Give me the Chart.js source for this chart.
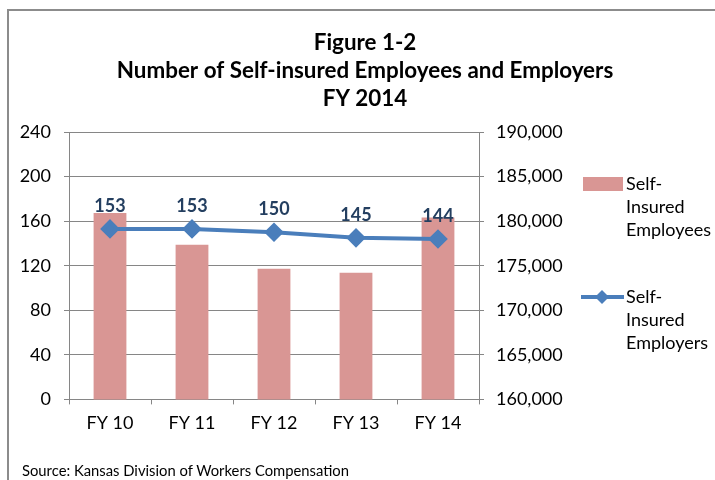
<!DOCTYPE html>
<html>
<head>
<meta charset="utf-8">
<script src="https://cdn.jsdelivr.net/npm/chart.js@4"></script>
<style>
  body { margin: 0; background: #fff; }
  #wrap { position: relative; width: 715px; height: 480px; overflow: hidden; }
  #frame { position: absolute; left: 7px; top: 9px; width: 720px; height: 480px;
           border-left: 2px solid #8c8c8c; border-top: 2px solid #8c8c8c; }
  #source { position: absolute; left: 22px; top: 461px; font: 14.8px Lato, sans-serif; color: #000; }
  canvas { position: absolute; left: 0; top: 0; }
</style>
</head>
<body>
<div id="wrap">
  <div id="frame"></div>
  <canvas id="myChart" width="715" height="480"></canvas>
  <div id="source">Source: Kansas Division of Workers Compensation</div>
</div>
<script>
let years = ['FY 10', 'FY 11', 'FY 12', 'FY 13', 'FY 14'];
let employees = [180900, 177350, 174650, 174200, 180400];
let employers = [153, 153, 150, 145, 144];
let leftTicks = [0, 40, 80, 120, 160, 200, 240];
let rightTicks = [160000, 165000, 170000, 175000, 180000, 185000, 190000];

const barColor = '#d99694';
const lineColor = '#4a7ebb';
const fontFamily = 'Lato, sans-serif';

// numbers above the employer points
const pointLabels = {
    id: 'pointLabels',
    afterDatasetsDraw(chart) {
        let ctx = chart.ctx;
        let meta = chart.getDatasetMeta(0);
        ctx.save();
        ctx.font = 'bold 18px ' + fontFamily;
        ctx.fillStyle = '#243f60';
        ctx.textAlign = 'center';
        ctx.textBaseline = 'middle';
        meta.data.forEach((pt, i) => {
            ctx.fillText(employers[i], pt.x, pt.y - 23);
        });
        ctx.restore();
    }
};

// legend on the right, wrapped like the original
const sideLegend = {
    id: 'sideLegend',
    afterDraw(chart) {
        let ctx = chart.ctx;
        ctx.save();
        ctx.font = '18px ' + fontFamily;
        ctx.textBaseline = 'middle';
        ctx.textAlign = 'left';

        ctx.fillStyle = barColor;
        ctx.fillRect(583, 177, 40, 14);
        ctx.fillStyle = '#000';
        ['Self-', 'Insured', 'Employees'].forEach((t, i) => ctx.fillText(t, 626, 184 + i * 23));

        ctx.strokeStyle = lineColor;
        ctx.lineWidth = 4;
        ctx.beginPath();
        ctx.moveTo(581, 297);
        ctx.lineTo(624, 297);
        ctx.stroke();
        ctx.fillStyle = lineColor;
        ctx.beginPath();
        ctx.moveTo(602, 290);
        ctx.lineTo(609, 297);
        ctx.lineTo(602, 304);
        ctx.lineTo(595, 297);
        ctx.closePath();
        ctx.fill();
        ctx.fillStyle = '#000';
        ['Self-', 'Insured', 'Employers'].forEach((t, i) => ctx.fillText(t, 626, 297 + i * 23));
        ctx.restore();
    }
};

var ctx = document.getElementById('myChart').getContext('2d');
var myChart = new Chart(ctx, {
    type: 'bar',
    data: {
        labels: years,
        datasets: [{
            type: 'line',
            label: 'Self-Insured Employers',
            data: employers,
            yAxisID: 'yLeft',
            borderColor: lineColor,
            backgroundColor: lineColor,
            borderWidth: 4,
            pointStyle: 'rectRot',
            pointRadius: 7,
            pointHoverRadius: 7,
            tension: 0,
            order: 0
        }, {
            type: 'bar',
            label: 'Self-Insured Employees',
            data: employees,
            yAxisID: 'yRight',
            backgroundColor: barColor,
            categoryPercentage: 1,
            barPercentage: 0.4,
            order: 1
        }]
    },
    options: {
        responsive: false,
        animation: false,
        layout: { padding: { left: 15, right: 0, top: 0, bottom: 38 } },
        plugins: {
            legend: { display: false },
            tooltip: { enabled: false },
            title: {
                display: true,
                text: ['Figure 1-2', 'Number of Self-insured Employees and Employers', 'FY 2014'],
                color: '#000',
                font: { family: fontFamily, size: 22.4, weight: 'bold', lineHeight: 1.25 },
                padding: { top: 29, bottom: 19 }
            }
        },
        scales: {
            x: {
                grid: { display: true, drawOnChartArea: false, drawTicks: true, tickLength: 5, color: '#868686', offset: true },
                border: { color: '#868686' },
                ticks: { color: '#000', font: { family: fontFamily, size: 18 }, padding: 8 }
            },
            yLeft: {
                position: 'left',
                min: 0,
                max: 240,
                afterBuildTicks: axis => { axis.ticks = leftTicks.map(v => ({ value: v })); },
                afterFit: axis => { axis.width = 54; },
                grid: { color: '#868686', tickLength: 5 },
                border: { color: '#868686' },
                ticks: { color: '#000', font: { family: fontFamily, size: 18 }, padding: 13 }
            },
            yRight: {
                position: 'right',
                min: 160000,
                max: 190000,
                afterBuildTicks: axis => { axis.ticks = rightTicks.map(v => ({ value: v })); },
                afterFit: axis => { axis.width = 236; },
                grid: { drawOnChartArea: false, color: '#868686', tickLength: 5 },
                border: { color: '#868686' },
                ticks: {
                    color: '#000',
                    font: { family: fontFamily, size: 18 },
                    padding: 12,
                    callback: v => v.toLocaleString('en-US')
                }
            }
        }
    },
    plugins: [pointLabels, sideLegend]
});
</script>
</body>
</html>
